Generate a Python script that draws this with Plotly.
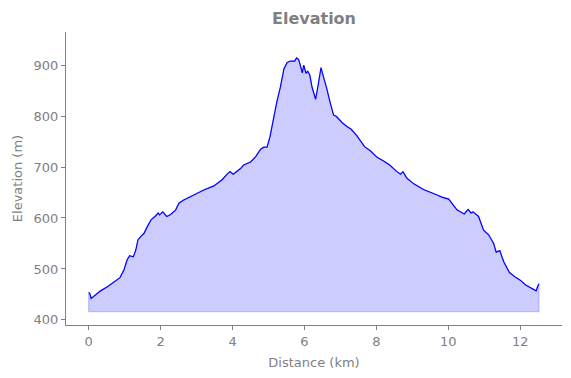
import plotly.graph_objects as go

distance_km = [0.00, 0.03, 0.07, 0.15, 0.33, 0.52, 0.70, 0.87, 0.98, 1.07,
               1.14, 1.24, 1.31, 1.37, 1.44, 1.54, 1.63, 1.74, 1.86, 1.93,
               1.97, 2.06, 2.17, 2.28, 2.42, 2.51, 2.63, 2.79, 2.97, 3.20,
               3.48, 3.71, 3.85, 3.93, 4.02, 4.22, 4.31, 4.50, 4.64, 4.78,
               4.87, 4.96, 5.04, 5.13, 5.24, 5.33, 5.43, 5.52, 5.61, 5.73,
               5.78, 5.84, 5.94, 5.98, 6.04, 6.09, 6.15, 6.21, 6.31, 6.37,
               6.46, 6.54, 6.61, 6.72, 6.81, 6.89, 7.05, 7.19, 7.30, 7.46,
               7.67, 7.83, 8.02, 8.20, 8.37, 8.57, 8.67, 8.74, 8.85, 9.04,
               9.31, 9.69, 9.82, 10.01, 10.10, 10.24, 10.44, 10.55, 10.63, 10.69,
               10.84, 10.98, 11.12, 11.26, 11.33, 11.43, 11.54, 11.70, 11.86, 12.02,
               12.14, 12.30, 12.44, 12.48, 12.52]

elevation_m = [454, 452, 442, 447, 457, 465, 474, 483, 498, 518,
               526, 524, 537, 557, 563, 570, 583, 597, 604, 610,
               606, 612, 603, 607, 616, 629, 635, 641, 648, 655,
               663, 675, 686, 691, 686, 697, 704, 710, 720, 735,
               739, 739, 759, 792, 831, 857, 893, 905, 908, 908,
               914, 911, 885, 900, 884, 888, 880, 857, 833, 857,
               895, 874, 857, 825, 802, 799, 787, 779, 774, 761,
               740, 732, 719, 712, 704, 691, 686, 691, 678, 667,
               656, 645, 641, 637, 629, 616, 608, 617, 610, 612,
               603, 576, 567, 550, 533, 536, 514, 493, 484, 477,
               469, 462, 457, 465, 471]

fill_base = 416
x_ticks = [0, 2, 4, 6, 8, 10, 12]
y_ticks = [400, 500, 600, 700, 800, 900]

GRAY = "#808080"
FONT = "DejaVu Sans"

poly_x = distance_km + [distance_km[-1], distance_km[0], distance_km[0]]
poly_y = elevation_m + [fill_base, fill_base, elevation_m[0]]

fig = go.Figure()
fig.add_trace(go.Scatter(
    x=poly_x, y=poly_y, mode="lines", fill="toself",
    fillcolor="rgba(0,0,255,0.2)",
    line=dict(color="rgba(0,0,255,0.2)", width=1.2),
    hoverinfo="skip", showlegend=False))
fig.add_trace(go.Scatter(
    x=distance_km, y=elevation_m, mode="lines",
    line=dict(color="blue", width=1.2),
    showlegend=False))

fig.update_layout(
    width=571, height=378,
    margin=dict(l=66, r=9, t=32, b=53),
    paper_bgcolor="white", plot_bgcolor="white",
    font=dict(family=FONT, color=GRAY, size=13),
    title=dict(text="<b>Elevation</b>", x=0.5, xref="paper", xanchor="center",
               y=1 - 18 / 378, yref="container", yanchor="middle",
               font=dict(size=16, color=GRAY, family=FONT)),
    xaxis=dict(range=[-0.63, 13.16], tickmode="array", tickvals=x_ticks,
               showgrid=False, zeroline=False, showline=True, linecolor=GRAY,
               linewidth=1, ticks="outside", ticklen=4, tickcolor=GRAY,
               tickfont=dict(size=13, color=GRAY), automargin=False,
               title=dict(text="Distance (km)", standoff=10,
                          font=dict(size=13, color=GRAY))),
    yaxis=dict(range=[390, 965], tickmode="array", tickvals=y_ticks,
               showgrid=False, zeroline=False, showline=True, linecolor=GRAY,
               linewidth=1, ticks="outside", ticklen=4, tickcolor=GRAY,
               tickfont=dict(size=13, color=GRAY), automargin=False,
               title=dict(text="Elevation (m)", standoff=8,
                          font=dict(size=13, color=GRAY))),
)

fig.write_html("out.html", config={"displayModeBar": False},
               post_script="document.body.style.margin='0';document.body.style.overflow='hidden';")
